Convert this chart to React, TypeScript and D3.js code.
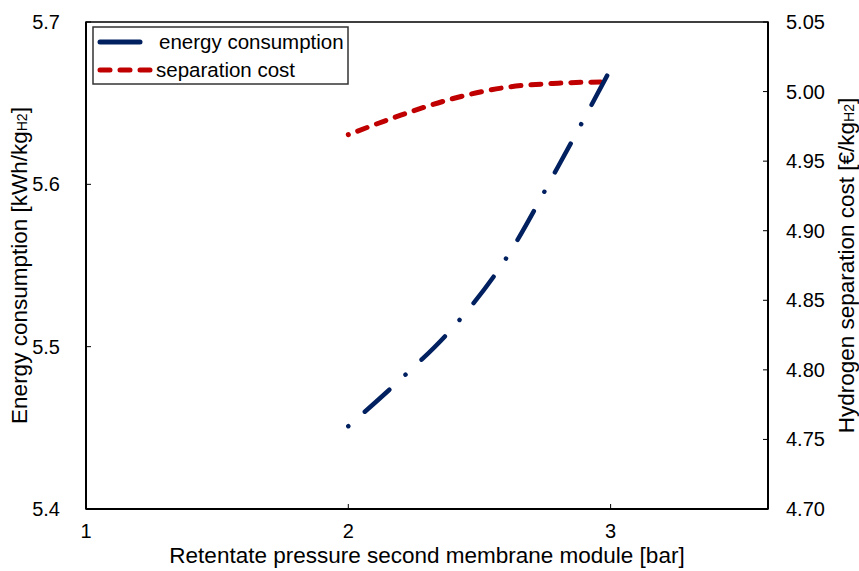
import React from 'react'
import * as d3 from 'd3'

// retentate pressure [bar]
const pressure = [2, 2.2, 2.4, 2.6, 2.8, 3]
// energy consumption [kWh/kgH2]
const energy = [5.451, 5.48, 5.512, 5.554, 5.611, 5.671]
// separation cost [€/kgH2]
const cost = [4.969, 4.983, 4.995, 5.003, 5.006, 5.007]

const xTicks = [1, 2, 3]
const leftTicks = [5.4, 5.5, 5.6, 5.7]
const rightTicks = [4.7, 4.75, 4.8, 4.85, 4.9, 4.95, 5.0, 5.05]

const W = 859
const H = 571
const box = { left: 86, right: 768, top: 22, bottom: 509 }
const font = '"Liberation Sans", Arial, sans-serif'
const navy = '#002060'
const red = '#C00000'

export default function App() {
  const x = d3.scaleLinear().domain([1, 3.6]).range([box.left, box.right])
  const yL = d3.scaleLinear().domain([5.4, 5.7]).range([box.bottom, box.top])
  const yR = d3.scaleLinear().domain([4.7, 5.05]).range([box.bottom, box.top])

  const energyLine = d3.line<number>()
    .x((_, i) => x(pressure[i]))
    .y(d => yL(d))
    .curve(d3.curveMonotoneX)
  const costLine = d3.line<number>()
    .x((_, i) => x(pressure[i]))
    .y(d => yR(d))
    .curve(d3.curveMonotoneX)

  const midY = (box.top + box.bottom) / 2
  const midX = (box.left + box.right) / 2

  return (
    <div style={{ position: 'absolute', left: 0, top: 0 }}>
      <svg width={W} height={H} style={{ display: 'block', fontFamily: font }}>
        <rect width={W} height={H} fill="#fff" />

        {/* plot frame */}
        <rect x={box.left} y={box.top} width={box.right - box.left} height={box.bottom - box.top}
          fill="none" stroke="#000" strokeWidth={1.5} />
        <line x1={box.left} x2={box.left} y1={box.top} y2={box.bottom} stroke="#000" strokeWidth={2} />
        <line x1={box.right} x2={box.right} y1={box.top} y2={box.bottom} stroke="#000" strokeWidth={2} />
        <line x1={box.left} x2={box.right} y1={box.bottom} y2={box.bottom} stroke="#000" strokeWidth={2} />

        {/* x axis */}
        {xTicks.map(t => (
          <g key={'x' + t}>
            <line x1={x(t)} x2={x(t)} y1={box.bottom} y2={box.bottom - 5} stroke="#000" strokeWidth={1} />
            <text x={x(t)} y={538} textAnchor="middle" fontSize={20}>{t}</text>
          </g>
        ))}

        {/* left axis */}
        {leftTicks.map(t => (
          <g key={'l' + t}>
            <line x1={box.left} x2={box.left + 5} y1={yL(t)} y2={yL(t)} stroke="#000" strokeWidth={1} />
            <text x={60} y={yL(t) + 7} textAnchor="end" fontSize={20}>{t.toFixed(1)}</text>
          </g>
        ))}

        {/* right axis */}
        {rightTicks.map(t => (
          <g key={'r' + t}>
            <line x1={box.right} x2={box.right - 5} y1={yR(t)} y2={yR(t)} stroke="#000" strokeWidth={1} />
            <text x={786} y={yR(t) + 7} textAnchor="start" fontSize={20}>{t.toFixed(2)}</text>
          </g>
        ))}

        {/* axis titles */}
        <text x={midX} y={563} textAnchor="middle" fontSize={22.5}>
          Retentate pressure second membrane module [bar]
        </text>
        <text transform={`translate(27,${midY}) rotate(-90)`} textAnchor="middle" fontSize={22.5}>
          Energy consumption [kWh/kg<tspan fontSize={14}>H2</tspan>]
        </text>
        <text transform={`translate(854,${midY}) rotate(-90)`} textAnchor="middle" fontSize={22.5}>
          Hydrogen separation cost [€/kg<tspan fontSize={14}>H2</tspan>]
        </text>

        {/* series */}
        <path d={costLine(cost) ?? ''} fill="none" stroke={red} strokeWidth={5}
          strokeLinecap="round" strokeDasharray="10 10" strokeDashoffset={9.99} />
        <path d={energyLine(energy) ?? ''} fill="none" stroke={navy} strokeWidth={4.5}
          strokeLinecap="round" strokeDasharray="0.01 22 33 22" />

        {/* legend */}
        <rect x={93} y={27} width={255} height={57} fill="#fff" stroke="#333" strokeWidth={1.5} />
        <line x1={100} x2={140} y1={42} y2={42} stroke={navy} strokeWidth={5} strokeLinecap="round" />
        <text x={159} y={49} fontSize={20.5}>energy consumption</text>
        <line x1={100} x2={156} y1={70} y2={70} stroke={red} strokeWidth={5}
          strokeLinecap="round" strokeDasharray="10 10" />
        <text x={156} y={77} fontSize={20.5}>separation cost</text>
      </svg>
    </div>
  )
}
